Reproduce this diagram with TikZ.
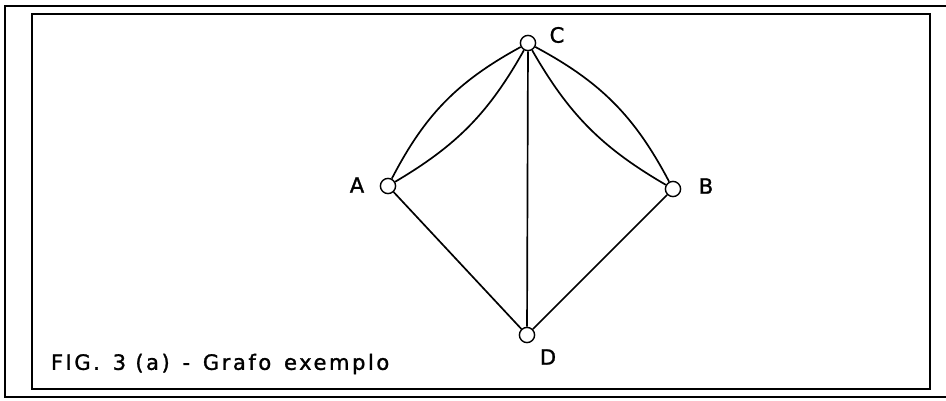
\documentclass[tikz,border=0pt]{standalone}
\usepackage{fontspec}
\setsansfont[FakeBold=1.3, LetterSpace=12]{DejaVu Sans}
\tikzset{
  vertex/.style={circle, draw, fill=white, line width=1pt, minimum size=3.8mm, inner sep=0pt},
  vlabel/.style={font=\sffamily\fontsize{15}{17}\selectfont},
  edge/.style={line width=1.2pt}
}
\begin{document}
\begin{tikzpicture}[x=0.25mm, y=-0.25mm]
        \useasboundingbox (0,0) rectangle (946,400);
        \draw[line width=2pt] (946,6) -- (5,6) -- (5,397) -- (946,397);
        \draw[line width=1.3pt] (32,14) rectangle (930,389);
        \node[vertex] (C) at (528,43) {};
        \node[vertex] (A) at (388,186) {};
        \node[vertex] (B) at (673,189) {};
        \node[vertex] (D) at (527,335) {};
        \node[vlabel] (lC) at (557,35) {C};
        \node[vlabel] (lA) at (357,185) {A};
        \node[vlabel] (lB) at (706,186) {B};
        \node[vlabel] (lD) at (548,357) {D};
        \draw[edge] (A) to[bend left=17] (C);
        \draw[edge] (A) to[bend right=15] (C);
        \draw[edge] (C) to[bend left=17] (B);
        \draw[edge] (C) to[bend right=15] (B);
        \draw[edge] (C) -- (D);
        \draw[edge] (A) -- (D);
        \draw[edge] (B) -- (D);
        \node[vlabel, anchor=west] (cap) at (46,364)
        {FIG.\, 3 (a)\, -\, Grafo\, exemplo};
    \end{tikzpicture}
\end{document}
